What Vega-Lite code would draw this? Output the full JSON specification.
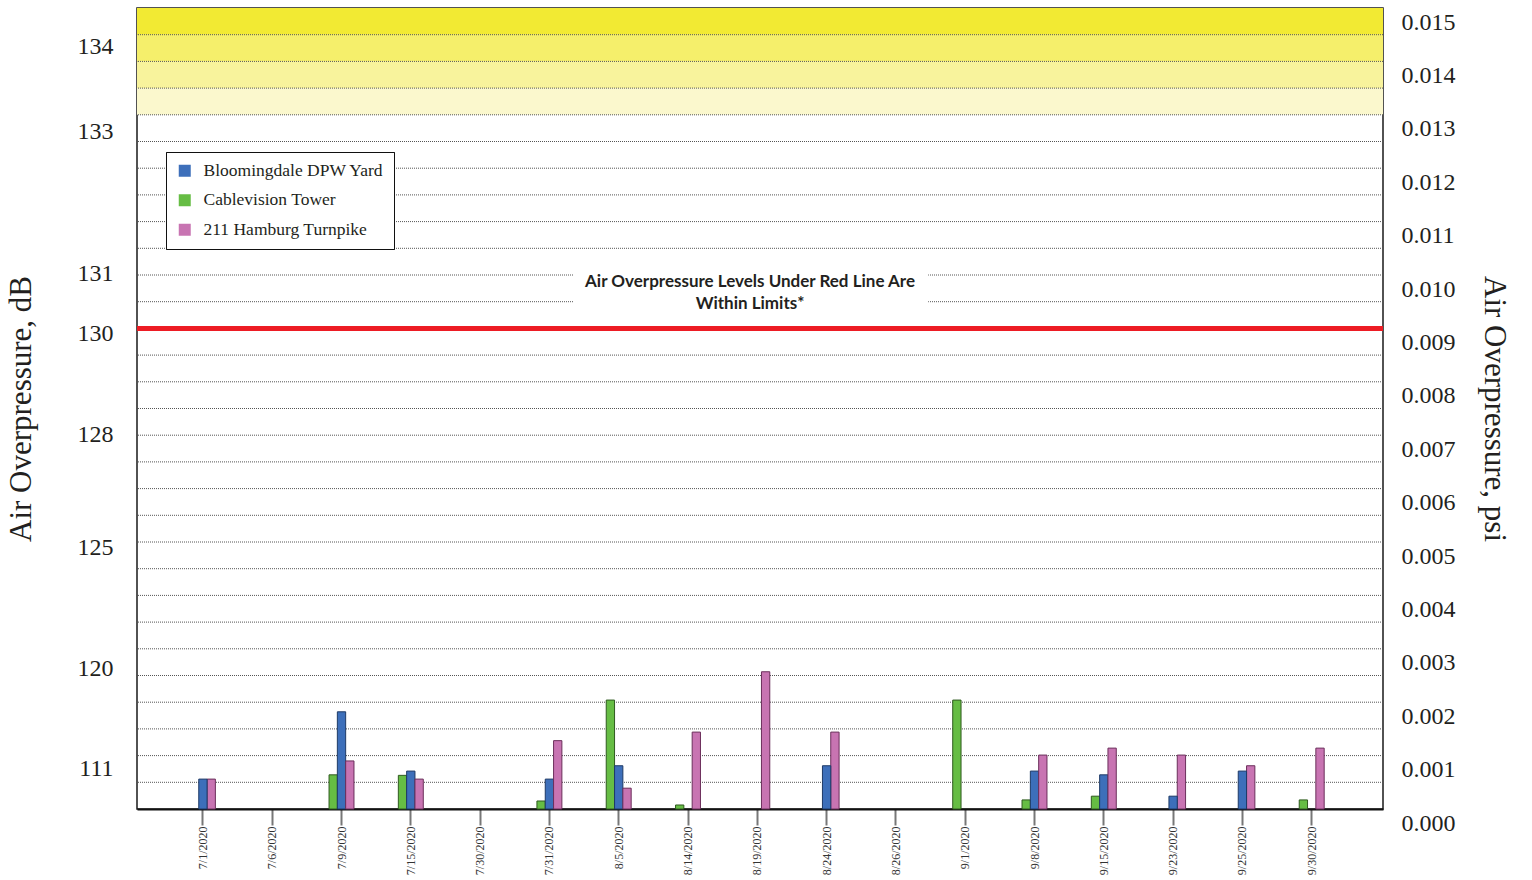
{
  "$schema": "https://vega.github.io/schema/vega-lite/v6.json",
  "width": 1246,
  "height": 801,
  "autosize": "none",
  "padding": {"left": 137, "top": 8, "right": 149, "bottom": 71},
  "background": "white",
  "config": {
    "view": {"stroke": "#1a1a1a", "strokeWidth": 1.5},
    "font": "Liberation Serif"
  },
  "datasets": {
    "bars": [
      {"date": "7/1/2020", "site": "211 Hamburg Turnpike", "psi": 0.00056},
      {"date": "7/1/2020", "site": "Bloomingdale DPW Yard", "psi": 0.00056},
      {"date": "7/9/2020", "site": "Cablevision Tower", "psi": 0.00064},
      {"date": "7/9/2020", "site": "Bloomingdale DPW Yard", "psi": 0.00182},
      {"date": "7/9/2020", "site": "211 Hamburg Turnpike", "psi": 0.0009},
      {"date": "7/15/2020", "site": "Cablevision Tower", "psi": 0.00063},
      {"date": "7/15/2020", "site": "Bloomingdale DPW Yard", "psi": 0.00071},
      {"date": "7/15/2020", "site": "211 Hamburg Turnpike", "psi": 0.00056},
      {"date": "7/31/2020", "site": "Cablevision Tower", "psi": 0.00015},
      {"date": "7/31/2020", "site": "Bloomingdale DPW Yard", "psi": 0.00056},
      {"date": "7/31/2020", "site": "211 Hamburg Turnpike", "psi": 0.00128},
      {"date": "8/5/2020", "site": "Cablevision Tower", "psi": 0.00204},
      {"date": "8/5/2020", "site": "Bloomingdale DPW Yard", "psi": 0.00081},
      {"date": "8/5/2020", "site": "211 Hamburg Turnpike", "psi": 0.00039},
      {"date": "8/14/2020", "site": "211 Hamburg Turnpike", "psi": 0.00144},
      {"date": "8/14/2020", "site": "Cablevision Tower", "psi": 0.000075},
      {"date": "8/19/2020", "site": "211 Hamburg Turnpike", "psi": 0.00257},
      {"date": "8/24/2020", "site": "211 Hamburg Turnpike", "psi": 0.00144},
      {"date": "8/24/2020", "site": "Bloomingdale DPW Yard", "psi": 0.00081},
      {"date": "9/1/2020", "site": "Cablevision Tower", "psi": 0.00204},
      {"date": "9/8/2020", "site": "Cablevision Tower", "psi": 0.00017},
      {"date": "9/8/2020", "site": "Bloomingdale DPW Yard", "psi": 0.00071},
      {"date": "9/8/2020", "site": "211 Hamburg Turnpike", "psi": 0.00101},
      {"date": "9/15/2020", "site": "Cablevision Tower", "psi": 0.00024},
      {"date": "9/15/2020", "site": "Bloomingdale DPW Yard", "psi": 0.00064},
      {"date": "9/15/2020", "site": "211 Hamburg Turnpike", "psi": 0.00114},
      {"date": "9/23/2020", "site": "211 Hamburg Turnpike", "psi": 0.00101},
      {"date": "9/23/2020", "site": "Bloomingdale DPW Yard", "psi": 0.00024},
      {"date": "9/25/2020", "site": "211 Hamburg Turnpike", "psi": 0.00081},
      {"date": "9/25/2020", "site": "Bloomingdale DPW Yard", "psi": 0.00071},
      {"date": "9/30/2020", "site": "211 Hamburg Turnpike", "psi": 0.00114},
      {"date": "9/30/2020", "site": "Cablevision Tower", "psi": 0.00017}
    ],
    "zones": [
      {"lo": 0.013, "hi": 0.0135},
      {"lo": 0.0135, "hi": 0.014},
      {"lo": 0.014, "hi": 0.0145},
      {"lo": 0.0145, "hi": 0.015}
    ],
    "grid": [
      {"psi": 0.0005}, {"psi": 0.001}, {"psi": 0.0015}, {"psi": 0.002}, {"psi": 0.0025},
      {"psi": 0.003}, {"psi": 0.0035}, {"psi": 0.004}, {"psi": 0.0045}, {"psi": 0.005},
      {"psi": 0.0055}, {"psi": 0.006}, {"psi": 0.0065}, {"psi": 0.007}, {"psi": 0.0075},
      {"psi": 0.008}, {"psi": 0.0085}, {"psi": 0.009}, {"psi": 0.0095}, {"psi": 0.01},
      {"psi": 0.0105}, {"psi": 0.011}, {"psi": 0.0115}, {"psi": 0.012}, {"psi": 0.0125},
      {"psi": 0.013}, {"psi": 0.0135}, {"psi": 0.014}, {"psi": 0.0145}
    ],
    "limit": [{"psi": 0.009}],
    "note": [{"note": "Air Overpressure Levels Under Red Line Are\nWithin Limits*"}]
  },
  "layer": [
    {
      "data": {"name": "zones"},
      "mark": {"type": "rect"},
      "encoding": {
        "y": {"field": "lo", "type": "quantitative", "scale": {"domain": [0, 0.015], "nice": false}, "axis": null},
        "y2": {"field": "hi"},
        "color": {"field": "lo", "type": "ordinal", "scale": {"domain": [0.013, 0.0135, 0.014, 0.0145], "range": ["#fbf8cd", "#f8f39c", "#f5ef6b", "#f2ea33"]}, "legend": null}
      }
    },
    {
      "data": {"name": "grid"},
      "mark": {"type": "rule", "color": "#555555", "strokeWidth": 1, "strokeDash": [1, 1]},
      "encoding": {
        "y": {
          "field": "psi", "type": "quantitative",
          "scale": {"domain": [0, 0.015], "nice": false},
          "axis": {
            "orient": "left",
            "values": [0.001029, 0.0029, 0.005157, 0.007284, 0.00917, 0.01029, 0.012955, 0.014535],
            "labelExpr": "format(20*log(datum.value/2.9e-9)/LN10, '.0f')",
            "labelFont": "Liberation Serif", "labelFontSize": 24, "labelColor": "#231f20",
            "labelOffset": 14, "labelPadding": 24, "labelFlush": false, "labelOverlap": false, "labelBound": false,
            "ticks": false, "domain": false, "grid": false,
            "title": "Air Overpressure, dB", "titleFont": "Liberation Serif", "titleFontSize": 31,
            "titleFontWeight": "normal", "titleColor": "#231f20", "titlePadding": 40
          }
        }
      }
    },
    {
      "data": {"name": "note"},
      "mark": {"type": "rect", "color": "white"},
      "encoding": {
        "x": {"datum": 0.35, "type": "quantitative", "scale": {"domain": [0, 1], "nice": false}, "axis": null},
        "x2": {"datum": 0.635},
        "y": {"datum": 0.00925, "type": "quantitative", "scale": {"domain": [0, 0.015], "nice": false}, "axis": null},
        "y2": {"datum": 0.0103}
      }
    },
    {
      "data": {"name": "note"},
      "mark": {"type": "text", "font": "Lato", "fontWeight": "bold", "fontSize": 17, "color": "#231f20", "lineBreak": "\n", "lineHeight": 22, "align": "center", "baseline": "middle"},
      "encoding": {
        "x": {"datum": 0.492, "type": "quantitative", "scale": {"domain": [0, 1], "nice": false}, "axis": null},
        "y": {"datum": 0.00986, "type": "quantitative", "scale": {"domain": [0, 0.015], "nice": false}, "axis": null},
        "text": {"field": "note", "type": "nominal"}
      }
    },
    {
      "data": {"name": "limit"},
      "mark": {"type": "rule", "color": "#ed1c24", "strokeWidth": 5},
      "encoding": {
        "y": {"field": "psi", "type": "quantitative", "scale": {"domain": [0, 0.015], "nice": false}, "axis": null}
      }
    },
    {
      "data": {"name": "bars"},
      "mark": {"type": "bar", "strokeWidth": 1},
      "encoding": {
        "x": {
          "field": "date", "type": "nominal",
          "scale": {
            "domain": ["7/1/2020", "7/6/2020", "7/9/2020", "7/15/2020", "7/30/2020", "7/31/2020", "8/5/2020", "8/14/2020", "8/19/2020", "8/24/2020", "8/26/2020", "9/1/2020", "9/8/2020", "9/15/2020", "9/23/2020", "9/25/2020", "9/30/2020"],
            "paddingInner": 0.64, "paddingOuter": 0.81, "align": 0.476
          },
          "axis": {
            "title": null, "labelAngle": 270, "labelAlign": "right", "labelBaseline": "middle",
            "labelFont": "Liberation Serif", "labelFontSize": 12, "labelColor": "#333333",
            "tickSize": 16, "tickWidth": 2, "tickColor": "#777777", "labelPadding": 1,
            "domainColor": "#111111", "domainWidth": 2
          }
        },
        "xOffset": {"field": "site", "type": "nominal", "scale": {"domain": ["Cablevision Tower", "Bloomingdale DPW Yard", "211 Hamburg Turnpike"]}},
        "y": {
          "field": "psi", "type": "quantitative",
          "scale": {"domain": [0, 0.015], "nice": false},
          "axis": {
            "orient": "right",
            "values": [0, 0.001, 0.002, 0.003, 0.004, 0.005, 0.006, 0.007, 0.008, 0.009, 0.01, 0.011, 0.012, 0.013, 0.014, 0.015],
            "format": ".3f",
            "labelFont": "Liberation Serif", "labelFontSize": 24, "labelColor": "#231f20",
            "labelOffset": 14, "labelPadding": 18, "labelFlush": false, "labelOverlap": false, "labelBound": false,
            "ticks": false, "domain": false, "grid": false,
            "title": "Air Overpressure, psi", "titleFont": "Liberation Serif", "titleFontSize": 31,
            "titleFontWeight": "normal", "titleColor": "#231f20", "titlePadding": 22
          }
        },
        "color": {
          "field": "site", "type": "nominal",
          "scale": {"domain": ["Bloomingdale DPW Yard", "Cablevision Tower", "211 Hamburg Turnpike"], "range": ["#3d6fba", "#66bd44", "#c874b2"]},
          "legend": {
            "title": null, "orient": "none", "legendX": 29, "legendY": 144,
            "labelFont": "Liberation Serif", "labelFontSize": 17.5, "labelColor": "#231f20", "labelLimit": 0,
            "symbolType": "square", "symbolSize": 144, "symbolStrokeWidth": 1,
            "padding": 10, "rowPadding": 10.5, "labelOffset": 10,
            "strokeColor": "#111111", "fillColor": "white"
          }
        },
        "stroke": {
          "field": "site", "type": "nominal",
          "scale": {"domain": ["Bloomingdale DPW Yard", "Cablevision Tower", "211 Hamburg Turnpike"], "range": ["#1e3a66", "#2f5a1f", "#6b2f5b"]},
          "legend": {
            "title": null, "orient": "none", "legendX": 29, "legendY": 144,
            "labelFont": "Liberation Serif", "labelFontSize": 17.5, "labelColor": "#231f20", "labelLimit": 0,
            "symbolType": "square", "symbolSize": 144, "symbolStrokeWidth": 1,
            "padding": 10, "rowPadding": 10.5, "labelOffset": 10,
            "strokeColor": "#111111", "fillColor": "white"
          }
        }
      }
    }
  ],
  "resolve": {"scale": {"x": "independent", "y": "independent", "color": "independent"}}
}
